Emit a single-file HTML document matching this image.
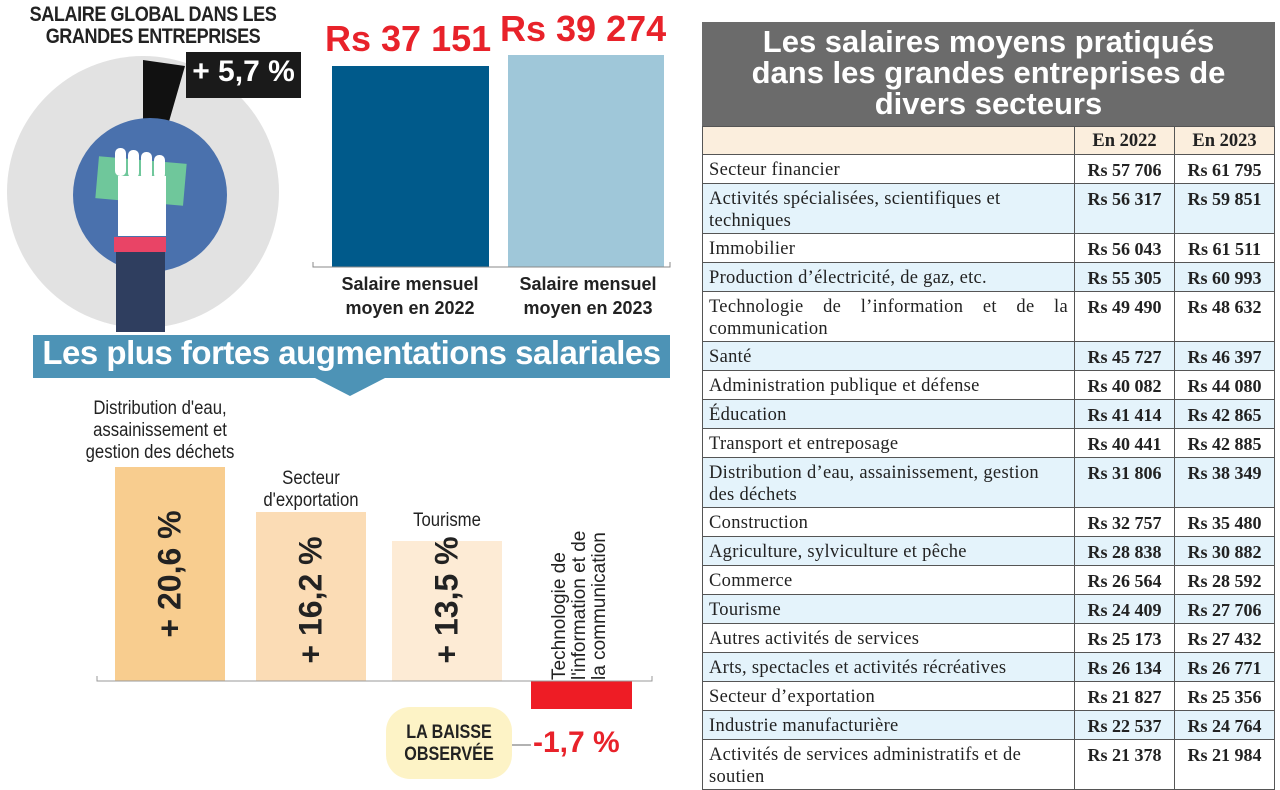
<!DOCTYPE html>
<html><head><meta charset="utf-8"><style>
*{margin:0;padding:0;box-sizing:border-box}
body{width:1280px;height:786px;background:#fff;position:relative;overflow:hidden;font-family:"Liberation Sans",sans-serif}
.a{position:absolute}
.c{text-align:center}
table{position:absolute;left:702px;top:126px;width:573px;border-collapse:collapse;font-family:"Liberation Serif",serif;font-size:18.5px;color:#222}
td{border:1px solid #555;padding:0 6px;vertical-align:top;line-height:22px}
td.v{font-weight:bold;text-align:center;padding:4px 2px 0;width:100px;white-space:nowrap;font-size:18px}
td.l{padding-top:4px;letter-spacing:0.3px}
tr{height:29px}
tr.d{height:50px}
tr.b{background:#e4f3fb}
tr.h{background:#fbeedd;height:28px}
tr.h td{font-weight:bold;text-align:center;padding-top:3px}
</style></head><body>
<svg class="a" style="left:0;top:0" width="1280" height="786">
<circle cx="143" cy="192" r="136" fill="#e2e2e2"/>
<polygon points="143,60 185,66 168,125 143,122" fill="#111"/>
<circle cx="150" cy="195" r="77" fill="#4a71ad"/>
<rect x="97" y="160" width="88" height="42" fill="#6fc79b" transform="rotate(5 141 181)"/>
<rect x="115" y="148" width="11" height="28" rx="5" fill="#fff"/><rect x="128" y="150" width="11" height="28" rx="5" fill="#fff"/><rect x="141" y="152" width="11" height="28" rx="5" fill="#fff"/><rect x="154" y="155" width="11" height="24" rx="5" fill="#fff"/>
<rect x="118" y="176" width="48" height="60" fill="#fff"/>
<rect x="114" y="237" width="52" height="15" fill="#e94466"/>
<rect x="116" y="252" width="49" height="80" fill="#2f3e5f"/>
<rect x="186" y="52" width="115" height="46" fill="#1a1a1a"/>
<rect x="332" y="66" width="157" height="201" fill="#005a8b"/>
<rect x="508" y="55" width="156" height="212" fill="#9fc7d9"/>
<path d="M313 262V267H670V262" stroke="#888" fill="none"/>
<path d="M33 335H670V378H385L350 396L315 378H33Z" fill="#4d93b6"/>
<rect x="115" y="467" width="110" height="214" fill="#f8cd8f"/>
<rect x="256" y="512" width="110" height="169" fill="#fbdcb5"/>
<rect x="392" y="541" width="110" height="140" fill="#fdebd5"/>
<rect x="531" y="681" width="101" height="28" fill="#ee1c25"/>
<path d="M97 676V681H652V676" stroke="#999" fill="none"/>
<rect x="386" y="707" width="126" height="72" rx="24" fill="#fdf3c6"/>
<line x1="512" y1="745" x2="531" y2="745" stroke="#666"/>
<rect x="702" y="22" width="573" height="104" fill="#6b6b6b"/>
</svg>
<div class="a c" style="left:-2px;top:4px;width:310px;font-size:21px;font-weight:bold;line-height:22px;color:#222;transform:scaleX(0.86);letter-spacing:-0.5px">SALAIRE GLOBAL DANS LES<br>GRANDES ENTREPRISES</div>
<div class="a c" style="left:186px;top:55px;width:115px;font-size:30px;color:#fff;font-weight:bold">+ 5,7 %</div>
<div class="a" style="left:325px;top:18px;font-size:36px;font-weight:bold;color:#e8222a">Rs 37 151</div>
<div class="a" style="left:500px;top:8px;font-size:36px;font-weight:bold;color:#e8222a">Rs 39 274</div>
<div class="a c" style="left:320px;top:272px;width:180px;font-size:18px;font-weight:bold;line-height:24px;color:#222">Salaire mensuel moyen en 2022</div>
<div class="a c" style="left:498px;top:272px;width:180px;font-size:18px;font-weight:bold;line-height:24px;color:#222">Salaire mensuel moyen en 2023</div>
<div class="a c" style="left:33px;top:334px;width:637px;font-size:33px;font-weight:bold;color:#fff;letter-spacing:-0.5px">Les plus fortes augmentations salariales</div>
<div class="a c" style="left:50px;top:398px;width:220px;font-size:19px;line-height:22px;color:#222;transform:scaleX(0.88)">Distribution d'eau,<br>assainissement et<br>gestion des déchets</div>
<div class="a c" style="left:226px;top:468px;width:170px;font-size:19px;line-height:22px;color:#222;transform:scaleX(0.88)">Secteur<br>d'exportation</div>
<div class="a c" style="left:372px;top:510px;width:150px;font-size:19px;color:#222;transform:scaleX(0.88)">Tourisme</div>
<div class="a" style="left:170px;top:574px;transform:translate(-50%,-50%) rotate(-90deg);font-size:32px;font-weight:bold;white-space:nowrap;color:#222">+ 20,6 %</div>
<div class="a" style="left:311px;top:600px;transform:translate(-50%,-50%) rotate(-90deg);font-size:32px;font-weight:bold;white-space:nowrap;color:#222">+ 16,2 %</div>
<div class="a" style="left:447px;top:600px;transform:translate(-50%,-50%) rotate(-90deg);font-size:32px;font-weight:bold;white-space:nowrap;color:#222">+ 13,5 %</div>
<div class="a" style="left:580px;top:590px;transform:translate(-50%,-50%) rotate(-90deg);font-size:19px;line-height:20px;width:180px;color:#222;white-space:nowrap;text-align:left">Technologie de<br>l'information et de<br>la communication</div>
<div class="a c" style="left:376px;top:722px;width:146px;font-size:19px;font-weight:bold;line-height:22px;color:#222;transform:scaleX(0.85)">LA BAISSE<br>OBSERVÉE</div>
<div class="a" style="left:533px;top:726px;font-size:30px;font-weight:bold;color:#e8222a">-1,7 %</div>
<div class="a c" style="left:702px;top:26px;width:573px;font-size:31px;font-weight:bold;line-height:31px;color:#fff">Les salaires moyens pratiqués<br>dans les grandes entreprises de<br>divers secteurs</div>
<table>
<tr class="h"><td></td><td>En 2022</td><td>En 2023</td></tr>
<tr><td class="l">Secteur financier</td><td class="v">Rs 57 706</td><td class="v">Rs 61 795</td></tr>
<tr class="b d"><td class="l">Activités spécialisées, scientifiques et<br>techniques</td><td class="v">Rs 56 317</td><td class="v">Rs 59 851</td></tr>
<tr><td class="l">Immobilier</td><td class="v">Rs 56 043</td><td class="v">Rs 61 511</td></tr>
<tr class="b"><td class="l">Production d’électricité, de gaz, etc.</td><td class="v">Rs 55 305</td><td class="v">Rs 60 993</td></tr>
<tr class="d"><td class="l" style="text-align:justify">Technologie de l’information et de la communication</td><td class="v">Rs 49 490</td><td class="v">Rs 48 632</td></tr>
<tr class="b"><td class="l">Santé</td><td class="v">Rs 45 727</td><td class="v">Rs 46 397</td></tr>
<tr><td class="l">Administration publique et défense</td><td class="v">Rs 40 082</td><td class="v">Rs 44 080</td></tr>
<tr class="b"><td class="l">Éducation</td><td class="v">Rs 41 414</td><td class="v">Rs 42 865</td></tr>
<tr><td class="l">Transport et entreposage</td><td class="v">Rs 40 441</td><td class="v">Rs 42 885</td></tr>
<tr class="b d"><td class="l">Distribution d’eau, assainissement, gestion<br>des déchets</td><td class="v">Rs 31 806</td><td class="v">Rs 38 349</td></tr>
<tr><td class="l">Construction</td><td class="v">Rs 32 757</td><td class="v">Rs 35 480</td></tr>
<tr class="b"><td class="l">Agriculture, sylviculture et pêche</td><td class="v">Rs 28 838</td><td class="v">Rs 30 882</td></tr>
<tr><td class="l">Commerce</td><td class="v">Rs 26 564</td><td class="v">Rs 28 592</td></tr>
<tr class="b"><td class="l">Tourisme</td><td class="v">Rs 24 409</td><td class="v">Rs 27 706</td></tr>
<tr><td class="l">Autres activités de services</td><td class="v">Rs 25 173</td><td class="v">Rs 27 432</td></tr>
<tr class="b"><td class="l">Arts, spectacles et activités récréatives</td><td class="v">Rs 26 134</td><td class="v">Rs 26 771</td></tr>
<tr><td class="l">Secteur d’exportation</td><td class="v">Rs 21 827</td><td class="v">Rs 25 356</td></tr>
<tr class="b"><td class="l">Industrie manufacturière</td><td class="v">Rs 22 537</td><td class="v">Rs 24 764</td></tr>
<tr class="d"><td class="l">Activités de services administratifs et de<br>soutien</td><td class="v">Rs 21 378</td><td class="v">Rs 21 984</td></tr>
</table>
</body></html>
